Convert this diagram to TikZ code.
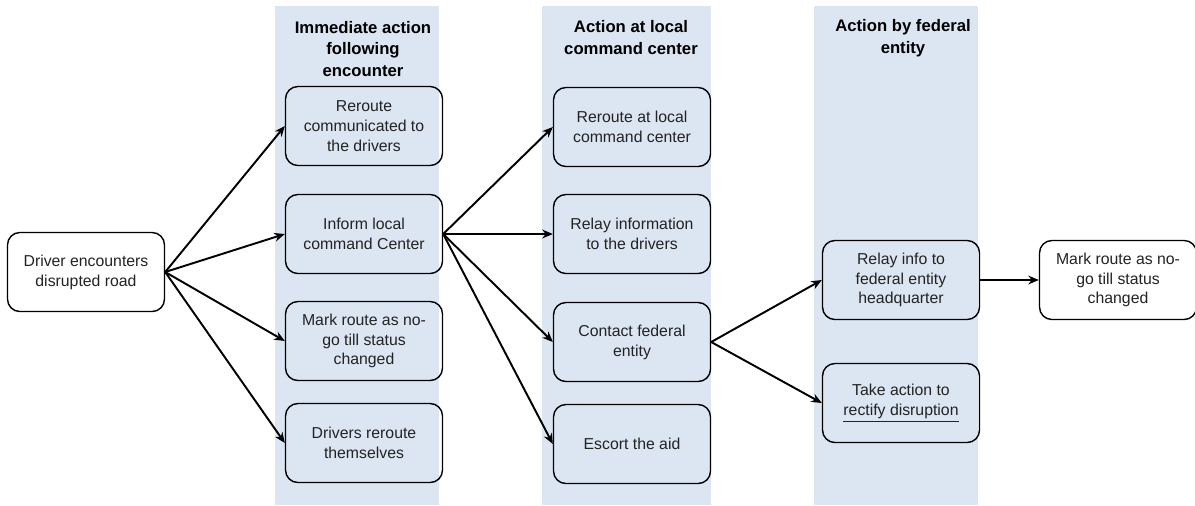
\documentclass[tikz,border=0pt]{standalone}
\usepackage{fontspec}
\setmainfont{Liberation Sans}
\usepackage{xcolor}
\usetikzlibrary{arrows.meta}
\definecolor{bandblue}{RGB}{220,229,242}
\definecolor{boxtext}{RGB}{35,35,35}

\begin{document}
\begin{tikzpicture}[x = 0.02cm, y = -0.02cm,
  band/.style = {fill = bandblue},
  head/.style = {align = center, font = \bfseries\fontsize{9.5}{12.5}\selectfont},
  stage/.style = {draw, rounded corners = 7pt, line width = 0.8pt,
    minimum width = 3.14cm, minimum height = 1.58cm, align = center,
    font = \fontsize{9}{11.3}\selectfont, text = boxtext},
  outer/.style = {stage, fill = white},
  flow/.style = {-{Stealth[length = 6pt, width = 5pt]}, line width = 1.1pt}]
\useasboundingbox (0,0) rectangle (1195,505);

% column bands
\fill[band] (275,6) rectangle (439,505);
\fill[band] (542,6) rectangle (711,505);
\fill[band] (814,6) rectangle (978,505);

\node[head] (h1) at (363,49) {Immediate action\\following\\encounter};
\node[head] (h2) at (631,38) {Action at local\\command center};
\node[head] (h3) at (903,38) {Action by federal\\entity};

\node[outer] (drv) at (86,272) {Driver encounters\\disrupted road};

\node[stage] (b1) at (364,126) {Reroute\\communicated to\\the drivers};
\node[stage] (b2) at (364,234) {Inform local\\command Center};
\node[stage] (b3) at (364,341) {Mark route as no-\\go till status\\changed};
\node[stage] (b4) at (364,443) {Drivers reroute\\themselves};

\node[stage] (c1) at (632,127) {Reroute at local\\command center};
\node[stage] (c2) at (632,234) {Relay information\\to the drivers};
\node[stage] (c3) at (632,342) {Contact federal\\entity};
\node[stage] (c4) at (632,444) {Escort the aid};

\node[stage] (d1) at (901,280) {Relay info to\\federal entity\\headquarter};
\node[stage] (d2) at (901,403) {Take action to\\\underline{rectify disruption}};

\node[outer] (fin) at (1118,280) {Mark route as no-\\go till status\\changed};

\draw[flow] (drv.east) -- (b1.west);
\draw[flow] (drv.east) -- (b2.west);
\draw[flow] (drv.east) -- (b3.west);
\draw[flow] (drv.east) -- (b4.west);

\draw[flow] (b2.east) -- (c1.west);
\draw[flow] (b2.east) -- (c2.west);
\draw[flow] (b2.east) -- (c3.west);
\draw[flow] (b2.east) -- (c4.west);

\draw[flow] (c3.east) -- (d1.west);
\draw[flow] (c3.east) -- (d2.west);
\draw[flow] (d1.east) -- (fin.west);
\end{tikzpicture}
\end{document}
